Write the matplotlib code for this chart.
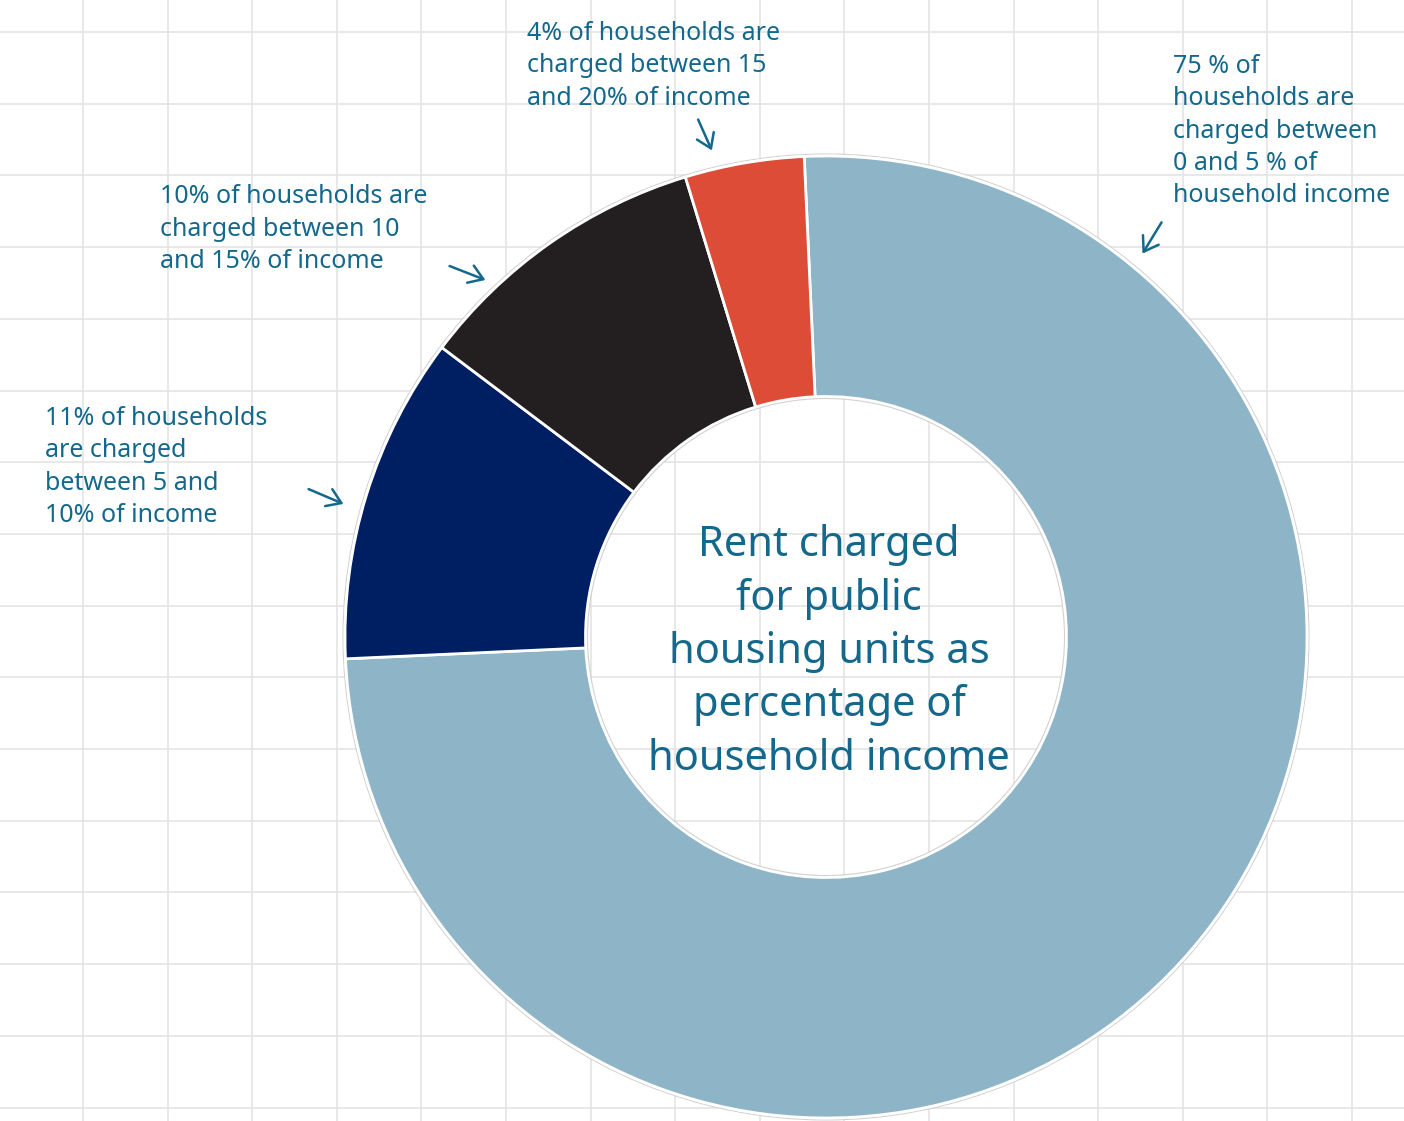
import numpy as np
import matplotlib
matplotlib.use("Agg")
from matplotlib import pyplot as plt
from matplotlib.patches import Circle

# share of households by rent as % of household income
bands = ["0-5%", "5-10%", "10-15%", "15-20%"]
shares = [75, 11, 10, 4]
colors = ["#8db5c7", "#001f63", "#231f20", "#dc4c36"]

notes = [
    "75 % of\nhouseholds are\ncharged between\n0 and 5 % of\nhousehold income",
    "11% of households\nare charged\nbetween 5 and\n10% of income",
    "10% of households are\ncharged between 10\nand 15% of income",
    "4% of households are\ncharged between 15\nand 20% of income",
]
title = "Rent charged\nfor public\nhousing units as\npercentage of\nhousehold income"

W, H = 1404, 1121
ink = "#14688c"
plt.rcParams["font.family"] = ["Noto Sans", "DejaVu Sans"]

fig = plt.figure(figsize=(W / 100, H / 100), dpi=100)
ax = fig.add_axes([0, 0, 1, 1])

# squared paper background
for x in np.arange(83, W, 84.6):
    ax.axvline(x, color="#e4e4e4", lw=1.2, zorder=0)
for y in np.arange(32, H, 71.7):
    ax.axhline(H - y, color="#e4e4e4", lw=1.2, zorder=0)

cx, cy, r = 826, H - 637, 481
wedges, _ = ax.pie(shares, colors=colors, startangle=92.6, counterclock=False,
                   center=(cx, cy), radius=r, frame=True,
                   wedgeprops=dict(width=r * 0.5, edgecolor="white", linewidth=2))
for w in wedges:
    w.set_zorder(2)
ax.add_patch(Circle((cx, cy), r + 2, fill=False, ec="#d2d2d2", lw=0.8, zorder=1))
ax.add_patch(Circle((cx, cy), r * 0.5 - 2, fill=False, ec="#d2d2d2", lw=0.8, zorder=3))

ax.set_xlim(0, W)
ax.set_ylim(0, H)
ax.axis("off")

ax.text(cx + 3, H - 652, title, ha="center", va="center", color=ink,
        fontsize=30, linespacing=1.35, zorder=4)

arrow = dict(arrowstyle="->,head_length=0.45,head_width=0.3", color=ink,
             lw=1.8, mutation_scale=22)
text_pos = [(1173, 131), (45, 467), (160, 229), (527, 66)]
arrow_pos = [((1163, 220), (1141, 256)), ((306, 488), (346, 505)),
             ((447, 265), (488, 281)), ((697, 117), (713, 153))]
for note, (tx, ty), ((x0, y0), (x1, y1)) in zip(notes, text_pos, arrow_pos):
    ax.text(tx, H - ty, note, ha="left", va="center", color=ink,
            fontsize=18, linespacing=1.39, zorder=4)
    ax.annotate("", xy=(x1, H - y1), xytext=(x0, H - y0),
                arrowprops=arrow, zorder=4)

fig.savefig("out.png", dpi=100)
